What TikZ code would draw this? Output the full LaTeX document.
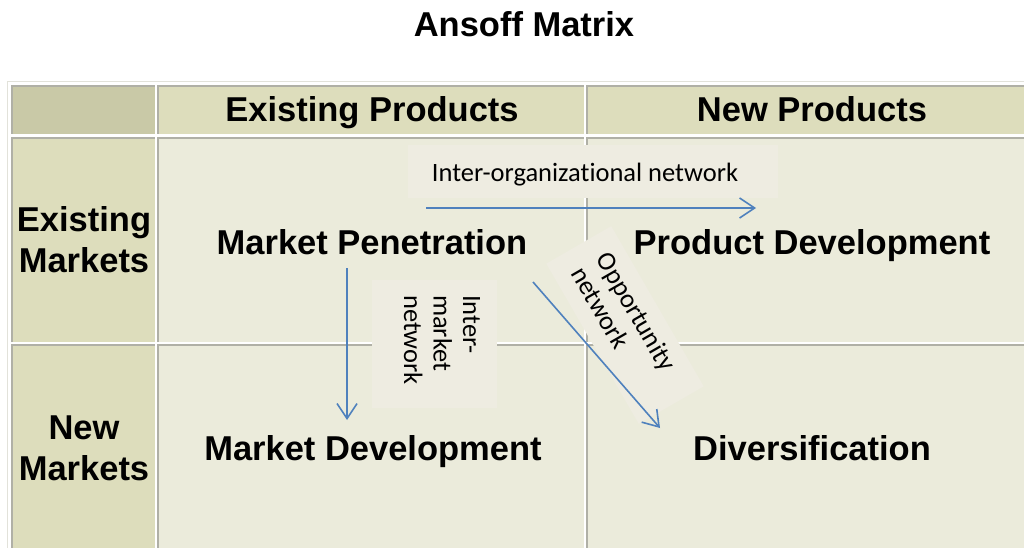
\documentclass[tikz,border=0pt]{standalone}
\usepackage{fontspec}
\setmainfont{Liberation Sans}
\newfontfamily\calibfont[Ligatures=NoCommon]{Carlito}
\usetikzlibrary{arrows.meta}
\definecolor{cornercol}{RGB}{201,201,167}
\definecolor{headcol}{RGB}{221,221,188}
\definecolor{bodycol}{RGB}{235,235,219}
\definecolor{rulecol}{RGB}{176,176,166}
\definecolor{rimcol}{RGB}{226,226,218}
\definecolor{boxcol}{RGB}{238,236,225}
\definecolor{arrowcol}{RGB}{79,129,189}

\tikzset{
  bigtext/.style={font=\fontsize{34.5}{41}\selectfont\bfseries, inner sep=0pt},
  netbox/.style={fill=boxcol, inner sep=0pt},
  nettext/.style={font=\calibfont\fontsize{26.5}{29.5}\selectfont, inner sep=0pt},
  netarrow/.style={draw=arrowcol, line width=1.6pt, -{Straight Barb[length=15pt,width=20pt]}},
  cellrule/.style={draw=rulecol, line width=2pt}
}

\begin{document}
\begin{tikzpicture}[x=1pt,y=-1pt]
\useasboundingbox (0,0) rectangle (1024,548);
\fill [white] (0,0) rectangle (1024,548);

% table
\draw [rimcol, line width=1pt] (7.5,548) |- (1024,81.5);
\foreach \xa/\ya/\xb/\yb/\col in {11/85/155/134/cornercol, 157/85/584/134/headcol, 586/85/1024/134/headcol,
  11/137/155/342/headcol, 157/137/584/342/bodycol, 586/137/1024/342/bodycol,
  11/344/155/548/headcol, 157/344/584/548/bodycol, 586/344/1024/548/bodycol}
{
  \fill [\col] (\xa,\ya) rectangle (\xb,\yb);
  \draw [cellrule] (\xa+1,\yb) -- (\xa+1,\ya+1) -- (\xb,\ya+1);
}

\node [bigtext, anchor=base] (title) at (524,37) {Ansoff Matrix};
\node [bigtext, anchor=base] (hexist) at (372,122) {Existing Products};
\node [bigtext, anchor=base] (hnew) at (812,122) {New Products};
\node [bigtext, align=center] (rexist) at (84,240) {Existing\\Markets};
\node [bigtext, align=center] (rnew) at (84,448) {New\\Markets};
\node [bigtext, anchor=base] (mpen) at (372,254) {Market Penetration};
\node [bigtext, anchor=base] (pdev) at (812,254) {Product Development};
\node [bigtext, anchor=base] (mdev) at (373,460) {Market Development};
\node [bigtext, anchor=base] (divers) at (812,460) {Diversification};

% network labels
\node [netbox, minimum width=370pt, minimum height=53pt] (iobox) at (593,171.5) {};
\node [nettext, anchor=base] (iolabel) at (585,182) {Inter-organizational network};
\node [netbox, minimum width=125pt, minimum height=128pt] (imbox) at (434.5,344) {};
\node [nettext, rotate=-90, align=left] (imlabel) at (442,340) {Inter-\\market\\network};
\node [netbox, rotate=-60, minimum width=185pt, minimum height=75pt] (opbox) at (625,325) {};
\node [nettext, rotate=-60, align=left] (oplabel) at (624,319) {Opportunity\\network};

% arrows
\coordinate (io-from) at (426,208);
\coordinate (io-to) at (756,208);
\coordinate (im-from) at (347,268);
\coordinate (im-to) at (347,420);
\coordinate (op-from) at (533,282);
\coordinate (op-to) at (660,428);
\draw [netarrow] (io-from) -- (io-to);
\draw [netarrow] (im-from) -- (im-to);
\draw [netarrow] (op-from) -- (op-to);

\end{tikzpicture}
\end{document}
